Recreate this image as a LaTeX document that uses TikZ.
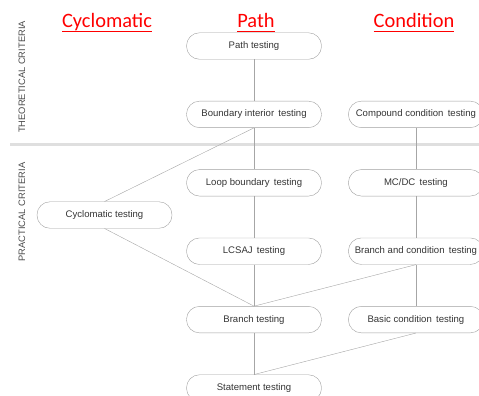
\documentclass[tikz,border=0pt]{standalone}
\usepackage{fontspec}
\setmainfont{Liberation Sans}
\newfontfamily\headfont{Carlito}
\usetikzlibrary{positioning}

\begin{document}
\begin{tikzpicture}[x=1bp,y=-1bp,
  test/.style={draw=gray!75,rounded corners=13bp,minimum width=135bp,minimum height=26.5bp,inner sep=0pt,font=\fontsize{9.6}{11}\selectfont,text=black!80},
  head/.style={anchor=base,text=red,font=\headfont\fontsize{20.5}{24}\selectfont},
  side/.style={rotate=90,text=black!70,font=\fontsize{9.4}{11}\selectfont},
  link/.style={draw=gray!70,thin},
  node distance=41.5bp and 26.5bp
]
\useasboundingbox (0,0) rectangle (479,395);
\clip (0,0) rectangle (479,395);

% headers and side labels
\node[head] (hcyc) at (107,27) {\underline{Cyclomatic}};
\node[head] (hpath) at (256,27) {\underline{Path\vphantom{y}}};
\node[head] (hcond) at (414,27) {\underline{Condition\vphantom{y}}};
\node[side] (theo) at (22,77) {THEORETICAL CRITERIA};
\node[side] (prac) at (22,212) {PRACTICAL CRITERIA};
\draw[gray!25,line width=3bp] (10,144.5) -- (479,144.5);

% path column
\node[test] (path) at (254,46) {Path testing};
\node[test,below=of path] (bound) {Boundary interior\, testing};
\node[test,below=of bound] (loop) {Loop boundary\, testing};
\node[test,below=of loop] (lcsaj) {LCSAJ\, testing};
\node[test,below=of lcsaj] (branch) {Branch testing};
\node[test,below=of branch] (stmt) {Statement testing};

% condition column
\node[test,right=of bound] (comp) {Compound condition\, testing};
\node[test,below=of comp] (mcdc) {MC/DC\, testing};
\node[test,below=of mcdc] (brcond) {Branch and condition\, testing};
\node[test,below=of brcond] (basic) {Basic condition\, testing};

% cyclomatic
\node[test] (cyc) at (104.5,215) {Cyclomatic testing};

\draw[link] (path) -- (bound);
\draw[link] (bound) -- (loop);
\draw[link] (loop) -- (lcsaj);
\draw[link] (lcsaj) -- (branch);
\draw[link] (branch) -- (stmt);
\draw[link] (comp) -- (mcdc);
\draw[link] (mcdc) -- (brcond);
\draw[link] (brcond) -- (basic);
\draw[link] (bound.south) -- (cyc.north);
\draw[link] (cyc.south) -- (branch.north);
\draw[link] (brcond.south) -- (branch.north);
\draw[link] (basic.south) -- (stmt.north);
\end{tikzpicture}
\end{document}
